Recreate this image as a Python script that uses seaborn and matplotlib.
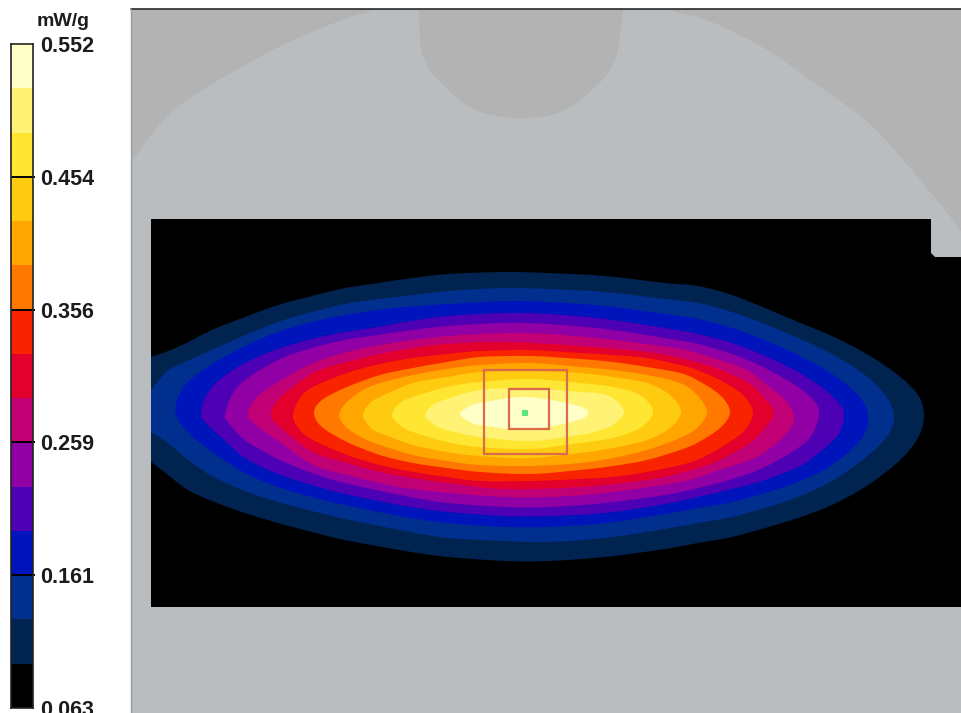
# plot.py
# SAR scan: contour bands over the phantom outline, colour scale on the left

import numpy as np
import seaborn as sns
import matplotlib.pyplot as plt
from matplotlib.colors import ListedColormap
from matplotlib.patches import PathPatch, Rectangle
from matplotlib.path import Path

# =========================
# Data
# =========================
unit_label = "mW/g"
tick_labels = ["0.552", "0.454", "0.356", "0.259", "0.161", "0.063"]
band_values = [0.536, 0.503, 0.471, 0.438, 0.405, 0.372, 0.340, 0.307,
               0.275, 0.242, 0.210, 0.177, 0.144, 0.112, 0.079]
band_colors = ["#ffffc8", "#fff274", "#ffe632", "#ffcb10", "#ffa600", "#ff7800",
               "#f82400", "#e4002c", "#c00074", "#9000a4", "#4e00b4", "#0014bc",
               "#002f8e", "#00234f", "#000000"]

# outline of each contour level, outermost first, in picture pixels
contour_01 = [(140, 360), (151, 357), (178, 347), (212, 330), (245, 317), (278, 305), (312, 296), (345, 288),
              (378, 283), (405, 279), (448, 274), (505, 272), (548, 273), (605, 276), (665, 283), (698, 286),
              (732, 295), (765, 308), (798, 322), (832, 336), (865, 353), (898, 375), (918, 395), (924, 415),
              (918, 438), (898, 462), (865, 487), (832, 505), (798, 518), (765, 528), (732, 537), (698, 543),
              (665, 549), (605, 557), (548, 561), (505, 561), (448, 557), (405, 551), (345, 540), (312, 532),
              (278, 523), (245, 513), (212, 501), (188, 490), (168, 475), (151, 462), (140, 455)]
contour_02 = [(140, 400), (151, 390), (165, 373), (178, 365), (212, 350), (245, 335), (278, 322), (312, 312),
              (345, 304), (378, 299), (405, 296), (448, 291), (505, 288), (548, 289), (605, 292), (665, 299),
              (698, 303), (732, 312), (765, 324), (798, 338), (832, 354), (865, 375), (885, 395), (894, 415),
              (888, 435), (865, 458), (832, 481), (798, 497), (765, 508), (732, 517), (698, 523), (665, 529),
              (605, 538), (548, 542), (505, 541), (448, 538), (405, 531), (345, 519), (312, 511), (278, 502),
              (245, 491), (212, 476), (188, 460), (168, 443), (151, 432), (140, 425)]
contour_03 = [(176, 415), (178, 398), (188, 382), (212, 364), (245, 346), (278, 332), (312, 322), (345, 315),
              (378, 310), (405, 307), (448, 304), (505, 301), (548, 302), (605, 306), (665, 314), (698, 319),
              (732, 328), (765, 340), (798, 355), (832, 374), (858, 395), (868, 415), (862, 438), (832, 465),
              (798, 482), (765, 493), (732, 502), (698, 508), (665, 514), (605, 523), (548, 527), (505, 527),
              (448, 523), (405, 517), (345, 505), (312, 497), (278, 487), (245, 473), (212, 452), (188, 432)]
contour_04 = [(201, 415), (205, 398), (218, 381), (245, 363), (278, 349), (312, 339), (345, 332), (378, 327),
              (405, 322), (448, 316), (505, 313), (548, 314), (605, 319), (665, 328), (698, 334), (732, 343),
              (765, 356), (798, 372), (825, 390), (840, 405), (844, 415), (838, 435), (815, 456), (798, 467),
              (765, 480), (732, 489), (698, 497), (665, 504), (605, 513), (548, 516), (505, 516), (448, 512),
              (405, 506), (345, 494), (312, 485), (278, 474), (245, 458), (222, 438), (205, 422)]
contour_05 = [(225, 415), (232, 395), (245, 380), (278, 360), (312, 348), (345, 340), (378, 335), (405, 331),
              (448, 326), (505, 323), (548, 324), (605, 329), (665, 338), (698, 344), (732, 354), (765, 368),
              (798, 387), (815, 402), (819, 415), (812, 435), (798, 448), (765, 467), (732, 479), (698, 488),
              (665, 495), (605, 503), (548, 507), (505, 507), (448, 503), (405, 496), (345, 483), (312, 473),
              (278, 459), (245, 440), (228, 422)]
contour_06 = [(248, 415), (256, 398), (280, 381), (313, 363), (347, 352), (380, 345), (405, 341), (448, 336),
              (505, 333), (548, 334), (605, 339), (680, 349), (713, 358), (747, 370), (767, 385), (785, 400),
              (794, 415), (788, 432), (765, 452), (747, 461), (713, 472), (680, 482), (605, 493), (548, 497),
              (505, 497), (448, 493), (405, 488), (380, 483), (347, 475), (313, 465), (280, 442), (256, 425)]
contour_07 = [(271, 415), (280, 398), (313, 373), (347, 362), (380, 354), (413, 348), (447, 344), (505, 342),
              (580, 346), (647, 352), (680, 358), (713, 367), (747, 382), (763, 397), (774, 413), (763, 430),
              (747, 445), (713, 463), (680, 473), (647, 480), (580, 487), (505, 489), (447, 483), (413, 478),
              (380, 472), (347, 463), (313, 452), (280, 427)]
contour_08 = [(293, 416), (300, 398), (313, 387), (347, 373), (380, 364), (413, 358), (447, 354), (480, 351),
              (530, 350), (580, 353), (613, 355), (647, 358), (680, 365), (697, 370), (720, 380), (743, 395),
              (753, 413), (743, 432), (720, 448), (697, 460), (680, 465), (647, 472), (613, 477), (580, 479),
              (530, 481), (480, 481), (447, 477), (413, 472), (380, 465), (347, 455), (313, 440), (300, 430)]
contour_09 = [(314, 413), (322, 400), (347, 387), (380, 375), (413, 368), (447, 362), (480, 357), (530, 356),
              (580, 359), (613, 362), (647, 367), (680, 373), (697, 380), (720, 395), (730, 412), (720, 428),
              (697, 443), (680, 450), (647, 460), (613, 466), (580, 470), (530, 474), (480, 472), (447, 468),
              (413, 463), (380, 455), (347, 442), (322, 427)]
contour_10 = [(339, 415), (347, 402), (363, 390), (380, 383), (413, 375), (447, 369), (480, 365), (530, 363),
              (580, 367), (613, 370), (647, 375), (680, 383), (697, 395), (707, 412), (697, 428), (680, 438),
              (647, 450), (613, 458), (580, 463), (530, 466), (480, 465), (447, 461), (413, 455), (380, 445),
              (363, 438), (347, 428)]
contour_11 = [(363, 415), (370, 403), (380, 397), (413, 383), (447, 377), (480, 372), (530, 371), (580, 373),
              (613, 377), (647, 383), (670, 395), (681, 412), (670, 428), (647, 440), (613, 448), (580, 453),
              (530, 458), (480, 456), (447, 452), (413, 445), (380, 433), (370, 427)]
contour_12 = [(392, 415), (400, 403), (413, 397), (447, 387), (480, 382), (530, 379), (580, 383), (613, 387),
              (640, 395), (653, 412), (640, 428), (613, 438), (580, 443), (530, 449), (480, 447), (447, 442),
              (413, 432), (400, 425)]
contour_13 = [(425, 415), (433, 405), (447, 399), (480, 390), (530, 388), (580, 392), (597, 393), (613, 398),
              (624, 412), (613, 425), (597, 431), (580, 435), (530, 441), (480, 437), (447, 430), (433, 424)]
contour_14 = [(460, 414), (470, 406), (480, 403), (525, 397), (575, 405), (588, 413), (575, 421), (525, 430),
              (480, 425), (470, 422)]
contours = [contour_01, contour_02, contour_03, contour_04, contour_05, contour_06, contour_07,
            contour_08, contour_09, contour_10, contour_11, contour_12, contour_13, contour_14]

# phantom outline, outer points lie outside the picture frame
corner_left = [(100, 210), (60, 200), (60, -30), (430, -30), (400, 0), (374, 10), (342, 20), (289, 42), (236, 70),
               (183, 103), (155, 130), (131, 163)]
corner_right = [(640, 0), (671, 10), (714, 23), (767, 50), (820, 87), (873, 127), (926, 187), (962, 233), (990, 280),
                (1040, 280), (1040, -30), (610, -30)]
head_notch = [(418, 0), (419, 10), (423, 57), (448, 90), (480, 112), (522, 118), (560, 112), (592, 90),
              (615, 60), (623, 10), (624, 0), (522, -20)]
scan_area = [(151, 219), (931, 219), (931, 253), (935, 257), (962, 257), (962, 607), (151, 607)]

# measurement cubes and peak
cube_large = (484, 370, 83, 84)
cube_small = (509, 389, 40, 40)
peak_point = (525, 413)


def smooth_path(points):
    # closed curve through the read points
    pts = np.array(points, dtype=float)
    verts = [pts[0]]
    codes = [Path.MOVETO]
    n = len(pts)
    for i in range(n):
        p0, p1, p2, p3 = pts[i - 1], pts[i], pts[(i + 1) % n], pts[(i + 2) % n]
        verts += [p1 + (p2 - p0) / 6, p2 - (p3 - p1) / 6, p2]
        codes += [Path.CURVE4] * 3
    return Path(verts, codes)


sns.set_theme(style="white")
plt.rcParams["font.family"] = ["Liberation Sans", "DejaVu Sans"]

fig = plt.figure(figsize=(9.62, 7.13), dpi=100)
fig.patch.set_facecolor("white")

# =========================
# Main picture, axes in pixels
# =========================
ax = fig.add_axes([0, 0, 1, 1])
ax.set_xlim(0, 962)
ax.set_ylim(713, 0)
ax.axis("off")

phantom = Rectangle((131, 9), 831, 704, facecolor="#b9bdbf", edgecolor="none", zorder=1)
ax.add_patch(phantom)
for shape in [corner_left, corner_right, head_notch]:
    part = PathPatch(smooth_path(shape), facecolor="#b3b3b3", edgecolor="none", zorder=2)
    ax.add_patch(part)
    part.set_clip_path(phantom)
ax.plot([131, 962], [9, 9], color="#2a2a2a", lw=1.2, zorder=3)
ax.plot([131.5, 131.5], [9, 713], color="#9a9d9f", lw=1, zorder=3)

xs, ys = zip(*scan_area)
area = ax.fill(xs, ys, color=band_colors[-1], lw=0, zorder=4)[0]

# contour levels, each one on top of the previous
for outline, color in zip(contours, band_colors[-2::-1]):
    band = PathPatch(smooth_path(outline), facecolor=color, edgecolor="none", zorder=5)
    ax.add_patch(band)
    band.set_clip_path(area)

for x, y, w, h in [cube_large, cube_small]:
    ax.add_patch(Rectangle((x, y), w, h, fill=False, edgecolor="#dc6a4a", lw=1.6, zorder=6))
ax.scatter(*peak_point, s=22, color="#5fe283", marker="s", linewidths=0, zorder=7)

# =========================
# Colour scale
# =========================
cax = fig.add_axes([11 / 962, 1 - 708 / 713, 22 / 962, 664 / 713])
sns.heatmap(np.array(band_values).reshape(-1, 1), ax=cax, cbar=False, xticklabels=False,
            cmap=ListedColormap(band_colors[::-1]), vmin=0.063, vmax=0.552)
cax.hlines([3, 6, 9, 12], 0, 1.08, color="black", lw=1.4, clip_on=False)
for spine in cax.spines.values():
    spine.set_visible(True)
    spine.set_color("#222222")
    spine.set_linewidth(1.2)
cax.yaxis.tick_right()
cax.set_yticks([0, 3, 6, 9, 12, 15])
cax.set_yticklabels(tick_labels, rotation=0, fontsize=15.5, fontweight="bold", color="#1c1c1c")
cax.tick_params(axis="y", length=0, pad=5)

ax.text(63, 21, unit_label, fontsize=14, fontweight="bold", ha="center", va="center", color="#1c1c1c")

fig.savefig("out.png", dpi=100)
plt.close(fig)
